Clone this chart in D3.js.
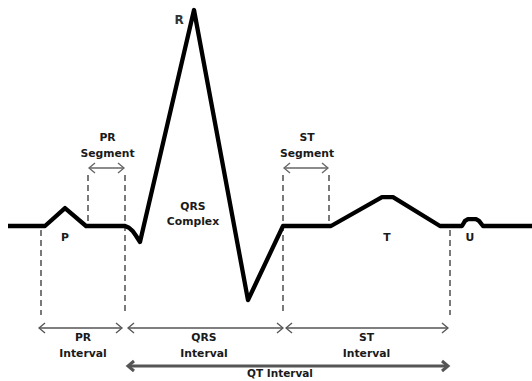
<!DOCTYPE html>
<html><head><meta charset="utf-8">
<script src="https://cdn.jsdelivr.net/npm/d3@7"></script>
<style>html,body{margin:0;padding:0;background:#fff;}svg{display:block;}</style>
</head><body><svg id="c" width="532" height="381"></svg>
<script>
// ECG trace: time (arbitrary units) and amplitude (R peak = 1)
const traceT = [8, 45, 65, 86, 125, 129, 133, 136, 140, 194, 248, 283, 331, 382, 393, 440, 462, 465, 468, 476, 479, 483, 532];
const traceV = [0, 0, 0.083, 0, 0, -0.008, -0.025, -0.045, -0.074, 1, -0.343, 0, 0, 0.134, 0.134, 0, 0, 0.024, 0.032, 0.032, 0.024, 0, 0];

// wave labels
const waveNames = ["P", "T", "U"];
const waveT = [65, 387, 470];

// boundary times
const boundaryT = [41, 88, 125, 283, 329, 450];
const boundaryLong = [true, false, true, true, false, true];
const boundaryShort = [false, true, true, true, true, false];

// segments (above)
const segNames = ["PR", "ST"];
const segStart = [88, 283];
const segEnd = [125, 329];

// intervals (below)
const intNames = ["PR", "QRS", "ST"];
const intStart = [41, 125, 283];
const intEnd = [125, 283, 450];

const qtStart = 125, qtEnd = 450;

const svg = d3.select("#c");
const x = d3.scaleLinear().domain([0, 532]).range([0, 532]);
const y = d3.scaleLinear().domain([0, 1]).range([226, 10]);

const font = "'DejaVu Sans', Verdana, sans-serif";
const txt = "#1a1a1a";
const fs = 10.8;

// dashed boundaries
boundaryT.forEach((t, i) => {
  const y1 = boundaryShort[i] ? 175 : 230;
  const y2 = boundaryLong[i] ? 315 : 226;
  svg.append("line").attr("x1", x(t)).attr("x2", x(t)).attr("y1", y1).attr("y2", y2)
    .attr("stroke", "#333").attr("stroke-width", 1.3).attr("stroke-dasharray", "6,4");
});

function arrow(x1, x2, yy, w, col, head) {
  const g = svg.append("g").attr("stroke", col).attr("fill", "none").attr("stroke-width", w);
  g.append("line").attr("x1", x1).attr("x2", x2).attr("y1", yy).attr("y2", yy);
  if (head.left) g.append("path").attr("d", `M${x1+6},${yy-5}L${x1},${yy}L${x1+6},${yy+5}`);
  if (head.right) g.append("path").attr("d", `M${x2-6},${yy-5}L${x2},${yy}L${x2-6},${yy+5}`);
}

function label(tx, ty, s, size, col) {
  svg.append("text").attr("x", tx).attr("y", ty).attr("text-anchor", "middle")
    .attr("font-family", font).attr("font-weight", "bold").attr("font-size", size || fs)
    .attr("fill", col || txt).text(s);
}

// segments
segNames.forEach((n, i) => {
  arrow(x(segStart[i]) + 1, x(segEnd[i]) - 1, 168, 1.3, "#666", {left: true, right: true});
  const cx = (x(segStart[i]) + x(segEnd[i])) / 2 + 1;
  label(cx, 141, n);
  label(cx, 157, "Segment");
});

// intervals
intNames.forEach((n, i) => {
  const a = x(intStart[i]) + (i === 0 ? -2 : 3);
  const b = x(intEnd[i]) - (i === 0 ? 3 : 0) - (i === 2 ? 2 : 0);
  arrow(a, b, 328, 1.3, "#555", {left: true, right: true});
  const cx = (x(intStart[i]) + x(intEnd[i])) / 2;
  label(cx, 341, n);
  label(cx, 357, "Interval");
});

// QT interval
arrow(x(qtStart) + 3, x(qtEnd) - 2, 366, 3, "#555", {left: true, right: true});
label(280, 377, "QT Interval", 10.5);

// trace
const pts = traceT.map((t, i) => [x(t), y(traceV[i])]);
svg.append("path").attr("d", d3.line()(pts)).attr("fill", "none").attr("stroke", "#000")
  .attr("stroke-width", 4.3).attr("stroke-linejoin", "round").attr("stroke-linecap", "butt");

// wave labels
waveNames.forEach((n, i) => label(x(waveT[i]), 241, n));
label(179, 24, "R", 12, "#333");

// QRS complex label
label(193, 210, "QRS");
label(193, 225, "Complex");
</script></body></html>
